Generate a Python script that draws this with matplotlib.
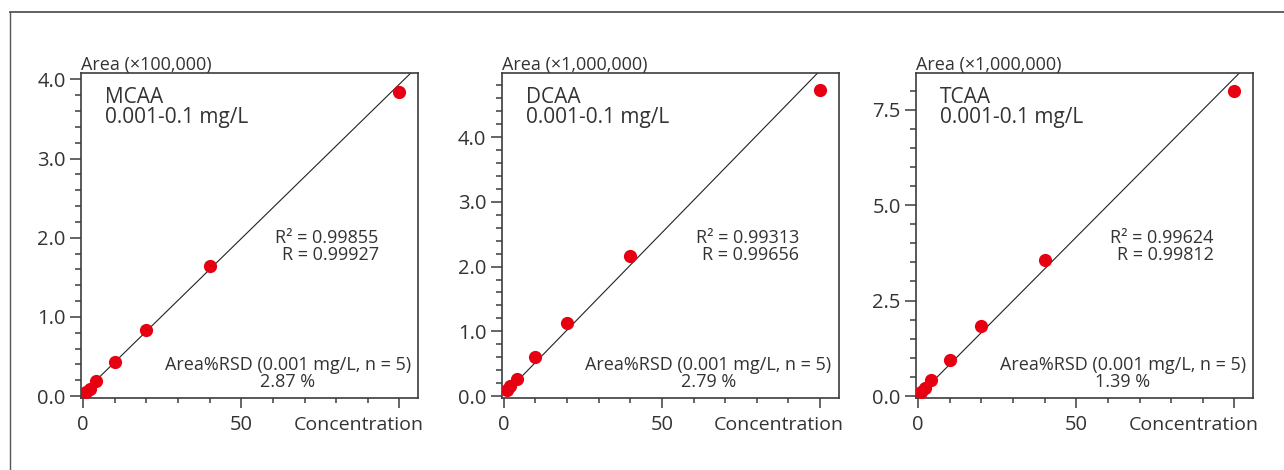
import numpy as np
import matplotlib
matplotlib.use('Agg')
from matplotlib import pyplot as plt
from matplotlib.lines import Line2D
from matplotlib.ticker import MultipleLocator, FixedLocator, FormatStrFormatter

plt.rcParams['font.family'] = ['Open Sans', 'DejaVu Sans']

# concentration (ug/L)
conc = [1, 2, 4, 10, 20, 40, 100]

names = ['MCAA', 'DCAA', 'TCAA']
conc_range = '0.001-0.1 mg/L'
y_units = ['Area (×100,000)', 'Area (×1,000,000)', 'Area (×1,000,000)']

mcaa_area = [0.05, 0.09, 0.185, 0.433, 0.836, 1.643, 3.845]
dcaa_area = [0.093, 0.155, 0.258, 0.609, 1.135, 2.157, 4.733]
tcaa_area = [0.10, 0.20, 0.42, 0.94, 1.83, 3.55, 7.98]
areas = [mcaa_area, dcaa_area, tcaa_area]

# calibration line (slope, intercept)
fit_slope = [0.039, 0.0501, 0.0833]
fit_icpt = [0.04, 0.019, 0.0]

r2_vals = ['0.99855', '0.99313', '0.99624']
r_vals = ['0.99927', '0.99656', '0.99812']
rsd_vals = ['2.87', '2.79', '1.39']

y_top = [4.08, 4.99, 8.46]
y_major = [1.0, 1.0, 2.5]
y_minor = [0.2, 0.2, 0.5]

RED = '#e60012'
DARK = '#3c3c3c'
TXT = '#333333'

fig = plt.figure(figsize=(12.84, 4.70), dpi=100)

# outer frame (top and left only)
fig.add_artist(Line2D([0.0074, 1.0], [0.9745, 0.9745], color='#555555', lw=1.3))
fig.add_artist(Line2D([0.0074, 0.0074], [0.9745, 0.0], color='#555555', lw=1.0))

lefts = [0.0631, 0.3907, 0.7134]
for i in range(3):
    ax = fig.add_axes([lefts[i], 0.1532, 0.2628, 0.6915])

    x_line = np.array([0, 110])
    ax.plot(x_line, fit_slope[i] * x_line + fit_icpt[i], color='#222222', lw=0.8, zorder=2)
    ax.plot(conc, areas[i], 'o', ms=9.5, color=RED, mec='none', zorder=3)

    ax.set_xlim(-0.7, 106)
    ax.set_ylim(-0.006 * y_top[i], y_top[i])

    ax.xaxis.set_major_locator(FixedLocator([0, 50, 100]))
    ax.set_xticklabels(['0', '50', ''])
    ax.xaxis.set_minor_locator(MultipleLocator(10))
    ax.yaxis.set_major_locator(MultipleLocator(y_major[i]))
    ax.yaxis.set_minor_locator(MultipleLocator(y_minor[i]))
    ax.yaxis.set_major_formatter(FormatStrFormatter('%.1f'))

    ax.tick_params(axis='both', which='both', color=DARK, labelcolor=TXT,
                   labelsize=14.5, width=1.1)
    ax.tick_params(axis='y', which='major', length=8, pad=3)
    ax.tick_params(axis='y', which='minor', length=4.5)
    ax.tick_params(axis='x', which='major', length=7, pad=5.5)
    ax.tick_params(axis='x', which='minor', length=3.5)
    for sp in ax.spines.values():
        sp.set_color(DARK)
        sp.set_linewidth(1.2)

    ax.text(0.0, 0.998, y_units[i], transform=ax.transAxes, ha='left', va='bottom',
            fontsize=13, color=TXT)
    ax.annotate('Concentration', xy=(1.0, 0.0), xycoords='axes fraction',
                xytext=(3.5, -13), textcoords='offset points', ha='right', va='top',
                fontsize=14, color=TXT)

    ax.text(0.072, 0.958, names[i] + '\n' + conc_range, transform=ax.transAxes,
            ha='left', va='top', fontsize=15, color=TXT, linespacing=0.98)
    ax.text(0.882, 0.466, 'R² = ' + r2_vals[i] + '\nR = ' + r_vals[i],
            transform=ax.transAxes, ha='right', va='center', multialignment='right',
            fontsize=13, color=TXT, linespacing=0.95)
    ax.text(0.613, 0.075, 'Area%RSD (0.001 mg/L, n = 5)\n' + rsd_vals[i] + ' %',
            transform=ax.transAxes, ha='center', va='center', multialignment='center',
            fontsize=13, color=TXT, linespacing=0.95)

fig.savefig('out.png', dpi=100, facecolor='white')
